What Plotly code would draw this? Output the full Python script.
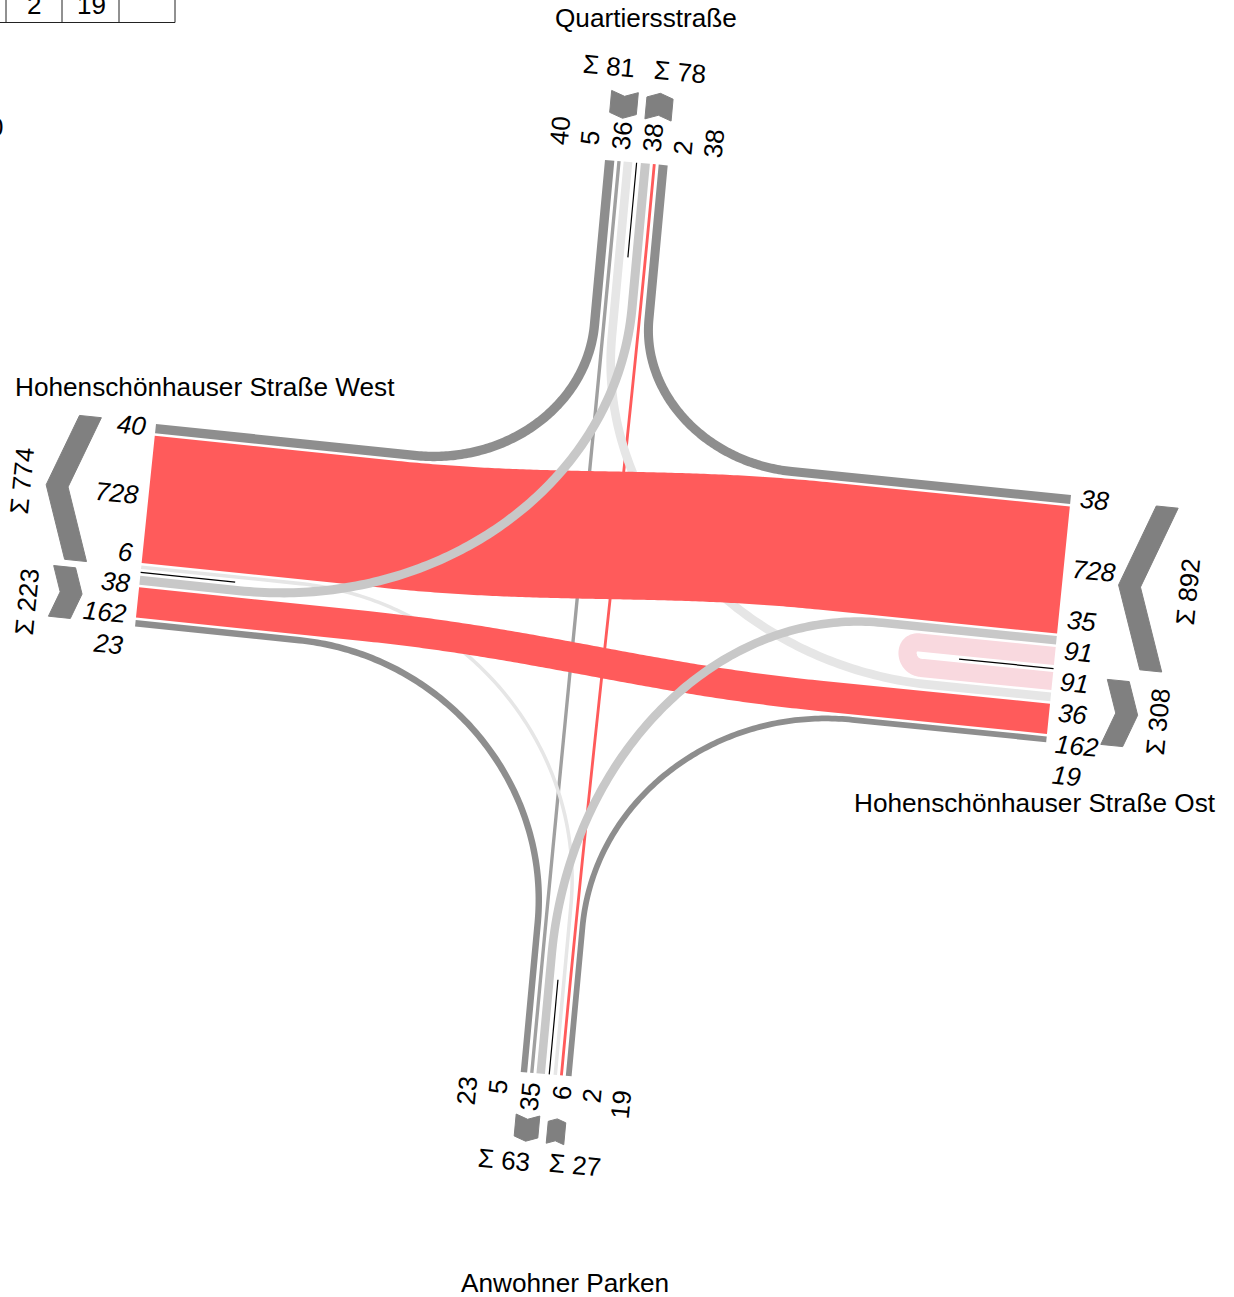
import numpy as np
import plotly.graph_objects as go

# counts per arm, in the order they sit along the arm (outgoing block, then incoming block)
west_out = [40, 728, 6]
west_in = [38, 162, 23]
east_out = [38, 728, 35, 91]
east_in = [91, 36, 162, 19]
north_out = [40, 5, 36]
north_in = [38, 2, 38]
south_out = [23, 5, 35]
south_in = [6, 2, 19]

street_names = ["Quartiersstraße", "Hohenschönhauser Straße West",
                "Hohenschönhauser Straße Ost", "Anwohner Parken"]
table_cells = ["2", "19"]

RED = "#ff5b5b"
DARK = "#8e8e8e"
MID = "#a0a0a0"
LIGHT = "#c8c8c8"
PALE = "#e6e6e6"
PINK = "#f9d9df"
CHEVRON = "#808080"
FONT = "Liberation Sans"

# arm geometry: origin of first band, across direction, inward direction, gap, gap at divider
arms = {
    "W": dict(o=(156, 424), u=(-0.103, 0.995), d=(0.995, 0.103), gap=2.5, mid=7, vals=west_out + west_in, n=3),
    "E": dict(o=(1071, 495), u=(-0.1, 0.995), d=(-0.995, -0.1), gap=2.5, mid=7, vals=east_out + east_in, n=4),
    "N": dict(o=(605, 160), u=(0.996, 0.085), d=(-0.092, 0.996), gap=3, mid=8.6, vals=north_out + north_in, n=3),
    "S": dict(o=(520.7, 1072), u=(0.996, 0.085), d=(0.092, -0.996), gap=3, mid=8.6, vals=south_out + south_in, n=3),
}


def band_width(v):
    return 2.5 + v * 0.172


def slots(arm):
    # centre of each band plus the divider position
    a = arms[arm]
    o, u = np.array(a["o"], float), np.array(a["u"], float)
    pos, centres, divider = 0.0, [], None
    for i, v in enumerate(a["vals"]):
        w = band_width(v)
        centres.append(o + u * (pos + w / 2))
        pos += w
        if i == a["n"] - 1:
            divider = o + u * (pos + a["mid"] / 2)
            pos += a["mid"]
        else:
            pos += a["gap"]
    return centres, divider


def route(arm0, i0, arm1, i1, l0, l1):
    p0 = slots(arm0)[0][i0]
    p1 = slots(arm1)[0][i1]
    d0 = np.array(arms[arm0]["d"], float)
    d1 = np.array(arms[arm1]["d"], float)
    a = p0 + d0 * l0
    b = p1 + d1 * l1
    cross = d0[0] * d1[1] - d0[1] * d1[0]
    if abs(cross) > 0.3:
        # quarter turn: handles towards the corner of the two arm lines
        s = ((b - a)[0] * d1[1] - (b - a)[1] * d1[0]) / cross
        corner = a + d0 * s
        h0 = a + (corner - a) * 0.55
        h1 = b + (corner - b) * 0.55
    elif arm0 == arm1:
        # u-turn
        r = np.linalg.norm(a - b) / 2
        h0 = a + d0 * r * 4 / 3
        h1 = b + d1 * r * 4 / 3
    else:
        dist = np.linalg.norm(b - a)
        h0 = a + d0 * dist * 0.38
        h1 = b + d1 * dist * 0.38
    t = np.linspace(0, 1, 120)[:, None]
    curve = (1 - t) ** 3 * a + 3 * (1 - t) ** 2 * t * h0 + 3 * (1 - t) * t ** 2 * h1 + t ** 3 * b
    return np.vstack([p0, curve, p1])


# from arm, slot, to arm, slot, colour, straight run at start, straight run at end (drawing order)
flows = [
    ("W", 0, "N", 0, DARK, 260, 165),
    ("W", 5, "S", 0, DARK, 165, 150),
    ("E", 0, "N", 5, DARK, 280, 155),
    ("E", 7, "S", 5, DARK, 195, 150),
    ("N", 1, "S", 1, MID, 0, 0),
    ("N", 4, "S", 4, RED, 0, 0),
    ("W", 2, "S", 3, PALE, 160, 170),
    ("E", 5, "N", 2, PALE, 120, 175),
    ("W", 1, "E", 1, RED, 240, 240),
    ("W", 4, "E", 6, RED, 230, 230),
    ("W", 3, "N", 3, LIGHT, 100, 145),
    ("E", 2, "S", 2, LIGHT, 175, 120),
    ("E", 3, "E", 4, PINK, 136, 132),
]

fig = go.Figure()

for a0, i0, a1, i1, colour, l0, l1 in flows:
    path = route(a0, i0, a1, i1, l0, l1)
    value = arms[a0]["vals"][i0]
    fig.add_trace(go.Scatter(x=path[:, 0], y=path[:, 1], mode="lines",
                             line=dict(color=colour, width=band_width(value), simplify=False),
                             hoverinfo="skip", showlegend=False))

# thin black dividers between directions
for name in arms:
    start = slots(name)[1]
    end = start + np.array(arms[name]["d"]) * 95
    fig.add_trace(go.Scatter(x=[start[0], end[0]], y=[start[1], end[1]], mode="lines",
                             line=dict(color="black", width=1.2), hoverinfo="skip", showlegend=False))

# summary chevrons: total, centre, across dir, tip dir
chevrons = [
    (sum(west_out), (83, 488.5), (-0.103, 0.995), (-0.995, -0.103)),
    (sum(west_in), (62, 592), (-0.103, 0.995), (0.995, 0.103)),
    (sum(east_out), (1159, 589), (-0.1, 0.995), (-0.995, -0.1)),
    (sum(east_in), (1115, 713), (-0.1, 0.995), (0.995, 0.1)),
    (sum(north_out), (624, 102.5), (0.996, 0.085), (-0.092, 0.996)),
    (sum(north_in), (659, 109), (0.996, 0.085), (0.092, -0.996)),
    (sum(south_out), (527, 1126), (0.996, 0.085), (-0.092, 0.996)),
    (sum(south_in), (556, 1133), (0.996, 0.085), (0.092, -0.996)),
]
for total, c, u, v in chevrons:
    c, u, v = np.array(c, float), np.array(u), np.array(v)
    span = 13 + 0.17 * total
    depth = 0.18 * span
    th = 22
    pts = [c - u * span / 2 - v * th / 2, c + v * (depth - th / 2), c + u * span / 2 - v * th / 2,
           c + u * span / 2 + v * th / 2, c + v * (depth + th / 2), c - u * span / 2 + v * th / 2,
           c - u * span / 2 - v * th / 2]
    pts = np.array(pts)
    fig.add_trace(go.Scatter(x=pts[:, 0], y=pts[:, 1], mode="lines", fill="toself", fillcolor=CHEVRON,
                             line=dict(color=CHEVRON, width=1), hoverinfo="skip", showlegend=False))

# clipped table in the top left corner
table_x = [6, 62, 119, 175]
table_bottom = 22.5
for x in table_x:
    fig.add_trace(go.Scatter(x=[x, x], y=[0, table_bottom], mode="lines",
                             line=dict(color="#222222", width=1), hoverinfo="skip", showlegend=False))
fig.add_trace(go.Scatter(x=[0, table_x[-1]], y=[table_bottom, table_bottom], mode="lines",
                         line=dict(color="#222222", width=1), hoverinfo="skip", showlegend=False))


def label(text, x, y, angle=0, italic=False, size=26):
    fig.add_annotation(x=x, y=y, text=f"<i>{text}</i>" if italic else text, textangle=angle,
                       showarrow=False, xref="x", yref="y",
                       font=dict(family=FONT, size=size, color="black"))


west_xy = [(131, 425), (117, 493), (125, 552), (115, 582), (105, 612), (108, 644)]
east_xy = [(1094, 500), (1094, 571), (1081, 621), (1078, 652), (1074, 683), (1072, 714), (1077, 746), (1066, 776)]
north_xy = [(560, 131), (590, 138), (622, 136), (653, 138), (683, 148), (714, 144)]
south_xy = [(467, 1091), (498, 1087), (530, 1097), (562, 1093), (592, 1096), (621, 1105)]

for v, (x, y) in zip(arms["W"]["vals"], west_xy):
    label(v, x, y, 5.5, True)
for v, (x, y) in zip(arms["E"]["vals"], east_xy):
    label(v, x, y, 5.5, True)
for v, (x, y) in zip(arms["N"]["vals"], north_xy):
    label(v, x, y, -84.5)
for v, (x, y) in zip(arms["S"]["vals"], south_xy):
    label(v, x, y, -84.5)

label(f"Σ {sum(west_out)}", 22, 481, -84.5)
label(f"Σ {sum(west_in)}", 27, 602, -84.5)
label(f"Σ {sum(east_out)}", 1188, 592, -84.5)
label(f"Σ {sum(east_in)}", 1158, 722, -84.5)
label(f"Σ {sum(north_out)}", 609, 66, 5.5)
label(f"Σ {sum(north_in)}", 680, 72, 5.5)
label(f"Σ {sum(south_out)}", 504, 1160, 5.5)
label(f"Σ {sum(south_in)}", 575, 1165, 5.5)

label(street_names[0], 646, 18, 0, False, 26.2)
label(street_names[1], 205, 387, 0, False, 26.2)
label(street_names[2], 1035, 803, 0, False, 26.2)
label(street_names[3], 565, 1283, 0, False, 26.2)

label(table_cells[0], 34, 5)
label(table_cells[1], 91, 5)
fig.add_annotation(x=5, y=127, text="0", showarrow=False, xanchor="right", xref="x", yref="y",
                   font=dict(family=FONT, size=26, color="black"))

fig.update_layout(
    width=1234, height=1297, margin=dict(l=0, r=0, t=0, b=0),
    paper_bgcolor="white", plot_bgcolor="white", showlegend=False,
    xaxis=dict(range=[0, 1234], visible=False, fixedrange=True),
    yaxis=dict(range=[1297, 0], visible=False, fixedrange=True),
)

fig.write_html("out.html", config={"displayModeBar": False},
               post_script="document.body.style.margin='0';")
